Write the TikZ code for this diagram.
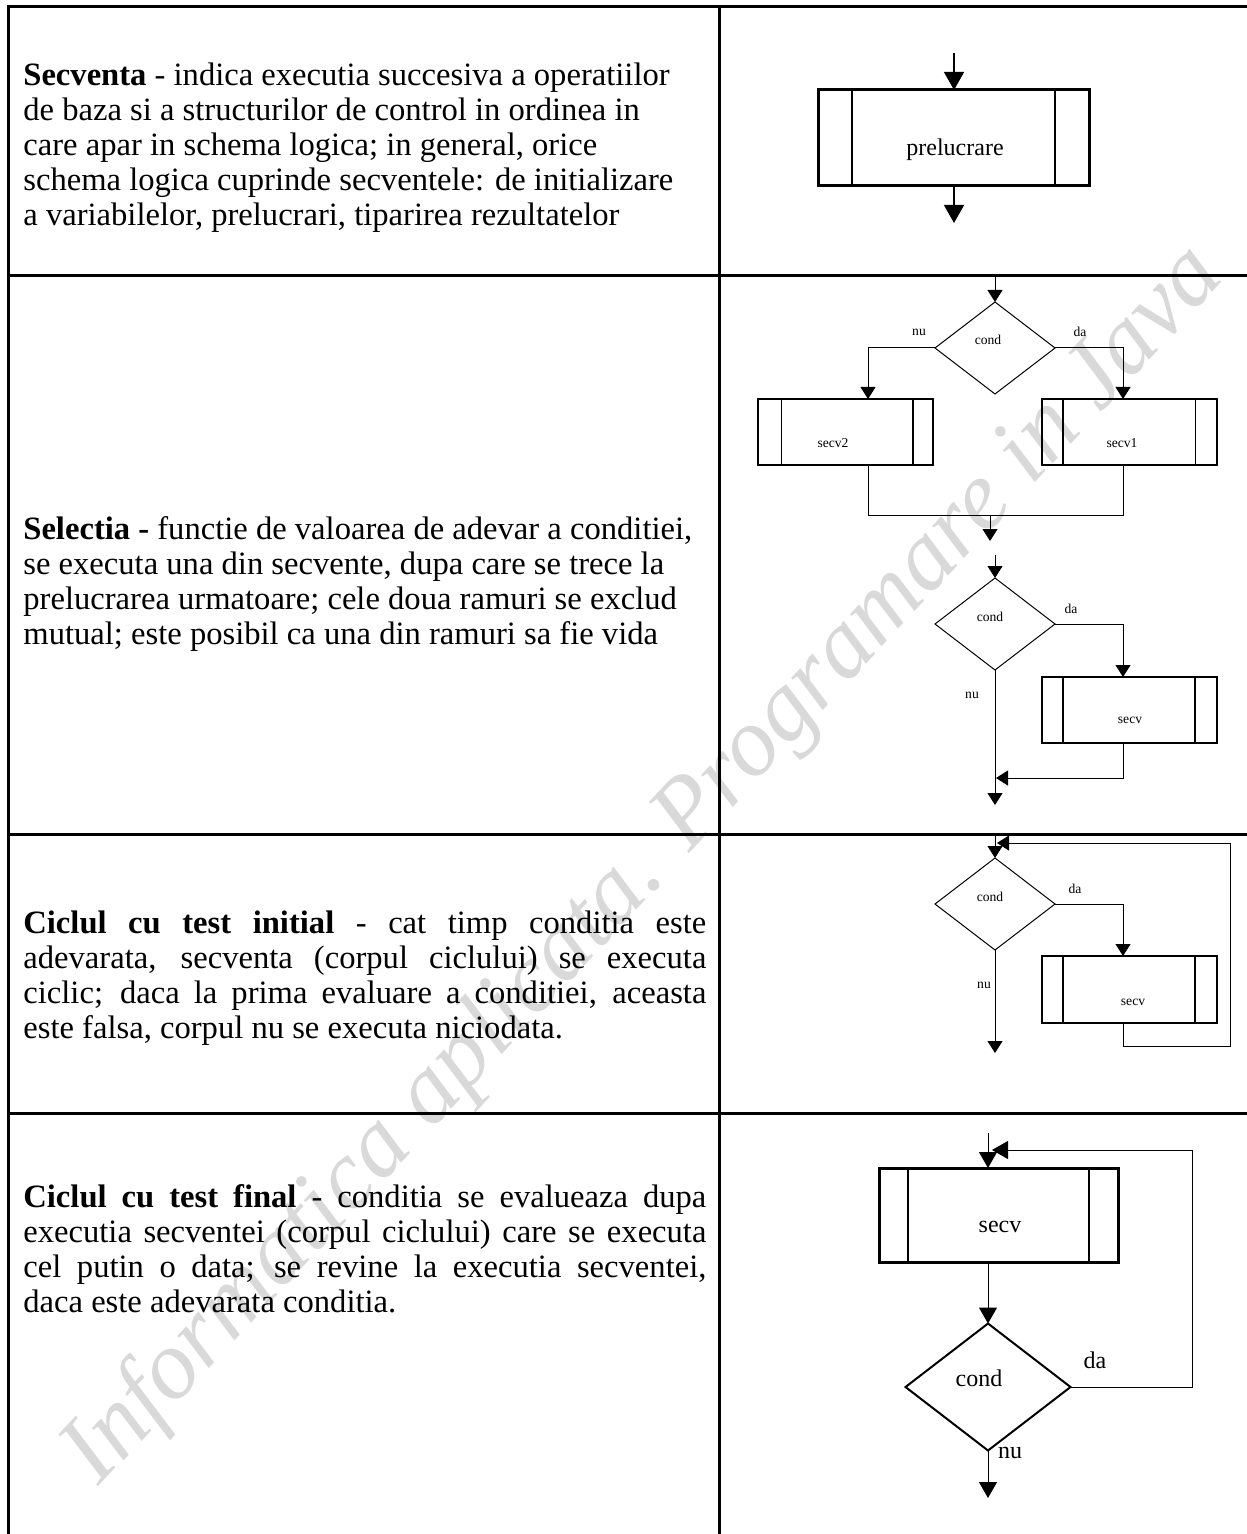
\documentclass[tikz,border=0pt]{standalone}
\usepackage{fontspec}
\setmainfont{Liberation Serif}
\usetikzlibrary{arrows.meta,shapes.geometric,calc}

\tikzset{
  grid/.style={line width=1.5pt},
  desc/.style={anchor=north west, inner sep=0pt, font=\fontsize{16.3}{17.6}\selectfont},
  wm/.style={inner sep=0pt, text=black!15, font=\itshape\fontsize{49}{49}\selectfont, rotate=47},
  % large diagrams (first and last rows)
  bigbox/.style={draw, line width=1.5pt, inner sep=0pt, outer sep=0pt},
  bigflow/.style={line width=0.7pt},
  arrL/.style={-{Triangle[length=9pt,width=10pt]}},
  arrM/.style={-{Triangle[length=8pt,width=9pt]}},
  lblL/.style={inner sep=0pt, font=\fontsize{12}{14}\selectfont},
  bigcnd/.style={diamond, draw, line width=1pt, inner sep=0pt, outer sep=0pt,
                 minimum width=82.5pt, minimum height=63.5pt},
  % small diagrams (middle rows)
  sbox/.style={draw, line width=1pt, inner sep=0pt, outer sep=0pt,
               minimum width=87.5pt, minimum height=33pt},
  flow/.style={line width=0.5pt},
  arrS/.style={-{Triangle[length=6pt,width=7.5pt]}},
  lblS/.style={inner sep=0pt, font=\fontsize{6.8}{8}\selectfont},
  cnd/.style={diamond, draw, line width=0.5pt, inner sep=0pt, outer sep=0pt,
              minimum width=60pt, minimum height=46pt},
}

\begin{document}
\begin{tikzpicture}[x=0.5pt,y=-0.5pt]
\fill[white] (0,0) rectangle (1246,1534);
\useasboundingbox (0,0) rectangle (1246,1534);

% watermark
\node[wm] (wmark) at (645,866) {Informatica aplicata. Programare in Java};

% table rules
\draw[grid] (8,1540) -- (8,7) -- (1250,7);
\draw[grid] (8,276) -- (1250,276);
\draw[grid] (8,834) -- (1250,834);
\draw[grid] (8,1113) -- (1250,1113);
\draw[grid] (719,7) -- (719,1540);

% descriptions
\node[desc, align=left] (t1) at (23,62)
  {\textbf{Secventa} - indica executia succesiva a operatiilor\\
   de baza si a structurilor de control in ordinea in\\
   care apar in schema logica; in general, orice\\
   schema logica cuprinde secventele: de initializare\\
   a variabilelor, prelucrari, tiparirea rezultatelor};

\node[desc, align=left] (t2) at (23,516)
  {\textbf{Selectia -} functie de valoarea de adevar a conditiei,\\
   se executa una din secvente, dupa care se trece la\\
   prelucrarea urmatoare; cele doua ramuri se exclud\\
   mutual; este posibil ca una din ramuri sa fie vida};

\node[desc, text width=341.5pt, align=justify] (t3) at (23,910)
  {\hyphenpenalty=10000\tolerance=10000
   \textbf{Ciclul cu test initial} - cat timp conditia este\linebreak
   adevarata, secventa (corpul ciclului) se executa\linebreak
   ciclic; daca la prima evaluare a conditiei, aceasta\linebreak
   este falsa, corpul nu se executa niciodata.};

\node[desc, text width=341.5pt, align=justify] (t4) at (23,1184)
  {\hyphenpenalty=10000\tolerance=10000
   \textbf{Ciclul cu test final} - conditia se evalueaza dupa\linebreak
   executia secventei (corpul ciclului) care se executa\linebreak
   cel putin o data; se revine la executia secventei,\linebreak
   daca este adevarata conditia.};

% ---- sequence ----
\coordinate (pin) at (954,53);
\coordinate (pout) at (954,223);
\node[bigbox, minimum width=135.5pt, minimum height=48pt] (P) at (953.5,138) {};
\draw[line width=1pt] ([xshift=17pt]P.north west) -- ([xshift=17pt]P.south west);
\draw[line width=1pt] ([xshift=-17pt]P.north east) -- ([xshift=-17pt]P.south east);
\node[lblL] (Pt) at (955,150) {prelucrare};
\draw[bigflow, arrL] (pin) -- (pin |- P.north);
\draw[bigflow, arrL] (pin |- P.south) -- (pout);

% ---- selection, two branches ----
\coordinate (xL) at (868,0);
\coordinate (xR) at (1123,0);
\coordinate (sin) at (995,277);
\node[cnd] (D1) at (995,348) {};
\node[lblS] (D1t) at (988,340) {cond};
\node[lblS] (D1n) at (919,332) {nu};
\node[lblS] (D1d) at (1080,332) {da};
\draw[flow, arrS] (sin) -- (D1.north);

\node[sbox] (B2) at (845.5,432) {};
\draw[line width=0.5pt] ([xshift=11.5pt]B2.north west) -- ([xshift=11.5pt]B2.south west);
\draw[line width=1pt] ([xshift=-10pt]B2.north east) -- ([xshift=-10pt]B2.south east);
\node[lblS] (B2t) at (833,443) {secv2};

\node[sbox] (B1) at (1129.5,432) {};
\draw[line width=1pt] ([xshift=10.5pt]B1.north west) -- ([xshift=10.5pt]B1.south west);
\draw[line width=0.5pt] ([xshift=-11pt]B1.north east) -- ([xshift=-11pt]B1.south east);
\node[lblS] (B1t) at (1122,443) {secv1};

\draw[flow, arrS] (D1.west) -| (xL |- B2.north);
\draw[flow, arrS] (D1.east) -| (xR |- B1.north);
\coordinate (m) at (990,515);
\coordinate (mout) at (990,541);
\draw[flow] (xL |- B2.south) |- (xR |- m) -- (xR |- B1.south);
\draw[flow, arrS] (m) -- (mout);

% ---- selection, one branch ----
\coordinate (s2in) at (995,555);
\coordinate (s2out) at (995,805);
\coordinate (j2) at (996,778);
\node[cnd] (D2) at (995,624) {};
\node[lblS] (D2t) at (990,617) {cond};
\node[lblS] (D2d) at (1071,609) {da};
\node[lblS] (D2n) at (972,695) {nu};
\draw[flow, arrS] (s2in) -- (D2.north);
\node[sbox] (B3) at (1129.5,710) {};
\draw[line width=1pt] ([xshift=10.5pt]B3.north west) -- ([xshift=10.5pt]B3.south west);
\draw[line width=0.8pt] ([xshift=-11pt]B3.north east) -- ([xshift=-11pt]B3.south east);
\node[lblS] (B3t) at (1130,720) {secv};
\draw[flow, arrS] (D2.east) -| (xR |- B3.north);
\draw[flow, arrS] (xR |- B3.south) |- (j2);
\draw[flow, arrS] (D2.south) -- (s2out);

% ---- loop with initial test ----
\coordinate (cin) at (995,834);
\coordinate (cout) at (995,1053);
\coordinate (lp) at (1230,1046);
\coordinate (ltop) at (997,843);
\node[cnd] (D3) at (995,904) {};
\node[lblS] (D3t) at (990,897) {cond};
\node[lblS] (D3d) at (1075,889) {da};
\node[lblS] (D3n) at (984,985) {nu};
\draw[flow, arrS] (cin) -- (D3.north);
\node[sbox, minimum height=33.5pt] (B4) at (1129.5,989.5) {};
\draw[line width=1pt] ([xshift=10.5pt]B4.north west) -- ([xshift=10.5pt]B4.south west);
\draw[line width=0.8pt] ([xshift=-11pt]B4.north east) -- ([xshift=-11pt]B4.south east);
\node[lblS] (B4t) at (1133,1002) {secv};
\draw[flow, arrS] (D3.east) -| (xR |- B4.north);
\draw[flow, arrS] (xR |- B4.south) |- (lp) |- (ltop);
\draw[flow, arrS] (D3.south) -- (cout);

% ---- loop with final test ----
\coordinate (fin) at (988,1133);
\coordinate (fout) at (988,1498);
\coordinate (fl) at (1192,1150);
\coordinate (fret) at (992,1150);
\node[bigbox, minimum width=119.5pt, minimum height=47pt] (B5) at (998.5,1215) {};
\draw[line width=1.25pt] ([xshift=14.5pt]B5.north west) -- ([xshift=14.5pt]B5.south west);
\draw[line width=0.75pt] ([xshift=-14.5pt]B5.north east) -- ([xshift=-14.5pt]B5.south east);
\node[lblL] (B5t) at (1000,1227) {secv};
\node[bigcnd] (D4) at (988,1387) {};
\node[lblL] (D4t) at (979,1378) {cond};
\node[lblL] (D4d) at (1095,1360) {da};
\node[lblL] (D4n) at (1010,1453) {nu};
\draw[flow, arrM] (fin) -- (fin |- B5.north);
\draw[flow, arrM] (fin |- B5.south) -- (D4.north);
\draw[flow, arrM] (D4.east) -| (fl) -- (fret);
\draw[flow, arrM] (D4.south) -- (fout);
\end{tikzpicture}
\end{document}
